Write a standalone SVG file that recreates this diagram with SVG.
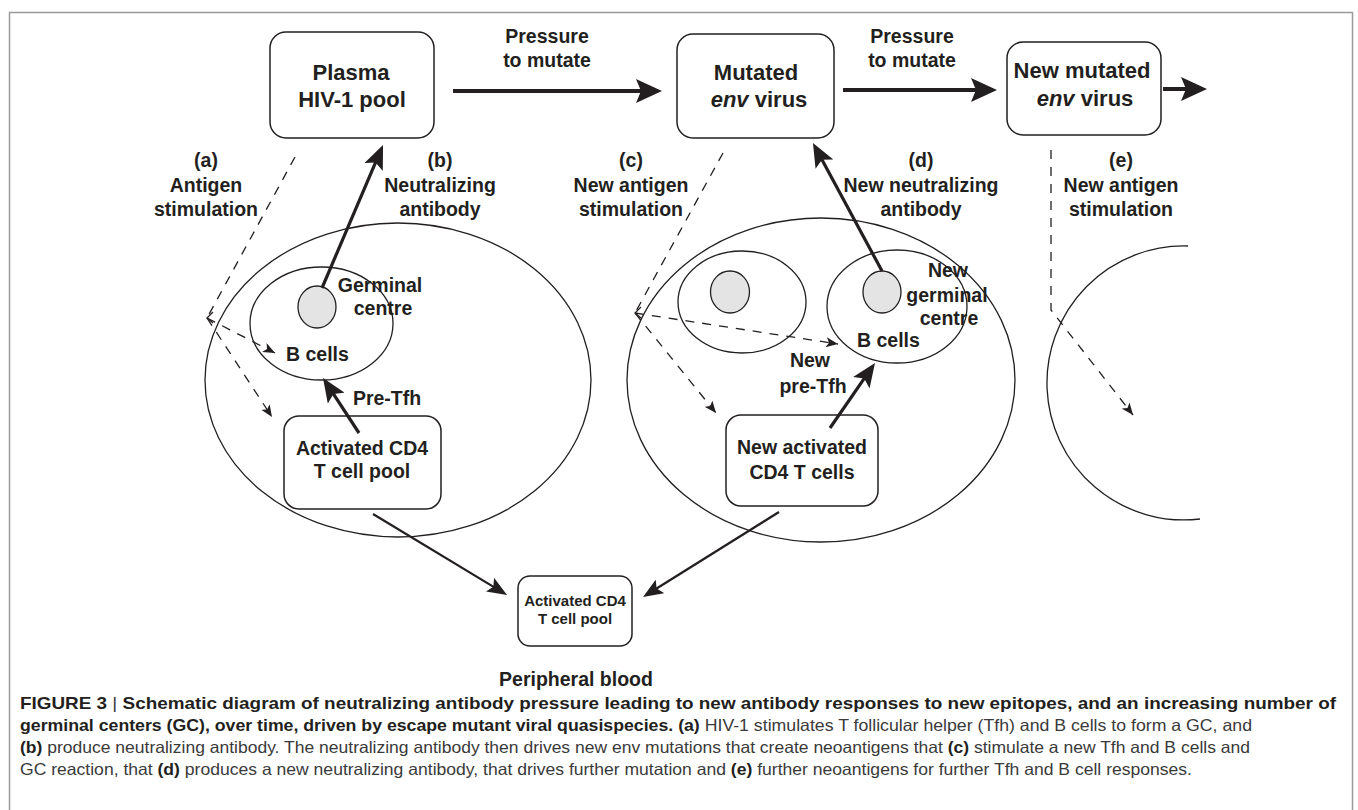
<svg xmlns="http://www.w3.org/2000/svg" width="1358" height="810" viewBox="0 0 1358 810">
<style>
.t{font-family:"Liberation Sans",Arial,Helvetica,sans-serif;font-weight:bold;fill:#231f20;text-anchor:middle}
.lb{font-size:19.5px}
.bx{font-size:22px}
.box{fill:#fff;stroke:#231f20;stroke-width:1.5}
.ell{fill:none;stroke:#231f20;stroke-width:1.3}
.gc{fill:#e4e4e4;stroke:#231f20;stroke-width:1.3}
.thick{stroke:#231f20;stroke-width:4;fill:none}
.mid{stroke:#231f20;stroke-width:3.2;fill:none}
.thin{stroke:#231f20;stroke-width:2.2;fill:none}
.dash{stroke:#231f20;stroke-width:1.3;stroke-dasharray:9 8;fill:none}
.chev{stroke:#231f20;stroke-width:1.2;fill:none}
.cap{font-family:"Liberation Sans",Arial,Helvetica,sans-serif;font-size:16.5px;fill:#231f20}
.cb{font-weight:bold}
.cr{font-weight:normal;fill:#3a3a3a}
</style>
<defs>
<marker id="hBig" viewBox="0 0 26 24" markerWidth="26" markerHeight="24" refX="16" refY="12" orient="auto" markerUnits="userSpaceOnUse"><path d="M0,0 L26,12 L0,24 L5,12 z" fill="#231f20"/></marker>
<marker id="hMid" viewBox="0 0 24 20" markerWidth="24" markerHeight="20" refX="14" refY="10" orient="auto" markerUnits="userSpaceOnUse"><path d="M0,0 L24,10 L0,20 L5,10 z" fill="#231f20"/></marker>
<marker id="hThin" viewBox="0 0 20 16" markerWidth="20" markerHeight="16" refX="12" refY="8" orient="auto" markerUnits="userSpaceOnUse"><path d="M0,0 L20,8 L0,16 L4,8 z" fill="#231f20"/></marker>
<marker id="hDash" viewBox="0 0 12 10" markerWidth="12" markerHeight="10" refX="12" refY="5" orient="auto" markerUnits="userSpaceOnUse"><path d="M0,0 L12,5 L0,10 L3,5 z" fill="#231f20"/></marker>
</defs>
<rect id="frame" x="9.5" y="12.5" width="1343" height="820" fill="none" stroke="#9a9a9a" stroke-width="1.5"/>

<g id="compartments">
<ellipse class="ell" cx="398" cy="380" rx="193" ry="157"/>
<ellipse class="ell" cx="821" cy="380" rx="194" ry="162"/>
<path class="ell" d="M1188,246 A137,137 0 1 0 1200,519"/>
</g>

<g id="gc-left">
<ellipse class="ell" cx="321.5" cy="323.5" rx="71.5" ry="56.5"/>
<ellipse class="gc" cx="317" cy="307" rx="19" ry="21"/>
<text class="t lb" x="380" y="292">Germinal</text>
<text class="t lb" x="383" y="315">centre</text>
<text class="t lb" x="286" y="361" style="text-anchor:start">B cells</text>
</g>

<g id="gc-mid-old">
<ellipse class="ell" cx="742" cy="302" rx="64" ry="51"/>
<ellipse class="gc" cx="730" cy="292" rx="19.5" ry="21"/>
</g>

<g id="gc-mid-new">
<ellipse class="ell" cx="897" cy="306.5" rx="70" ry="56.5"/>
<ellipse class="gc" cx="882" cy="292" rx="19" ry="21"/>
<text class="t lb" x="948" y="277">New</text>
<text class="t lb" x="947" y="302">germinal</text>
<text class="t lb" x="949" y="325">centre</text>
<text class="t lb" x="857" y="347" style="text-anchor:start">B cells</text>
</g>

<g id="plasma">
<rect class="box" x="270" y="32" width="164" height="106" rx="16"/>
<text class="t bx" x="351" y="80">Plasma</text>
<text class="t bx" x="352" y="107">HIV-1 pool</text>
</g>

<g id="mutated">
<rect class="box" x="677" y="34" width="157" height="104" rx="16"/>
<text class="t bx" x="756" y="80">Mutated</text>
<text class="t bx" x="759" y="107"><tspan font-style="italic">env</tspan> virus</text>
</g>

<g id="new-mutated">
<rect class="box" x="1007" y="42" width="154" height="93" rx="16"/>
<text class="t bx" x="1082" y="78">New mutated</text>
<text class="t bx" x="1085" y="106"><tspan font-style="italic">env</tspan> virus</text>
</g>

<g id="act-left">
<rect class="box" x="284" y="416" width="157" height="93" rx="15"/>
<text class="t lb" x="362" y="455">Activated CD4</text>
<text class="t lb" x="362" y="478">T cell pool</text>
</g>

<g id="act-mid">
<rect class="box" x="726" y="415" width="152" height="91" rx="15"/>
<text class="t lb" x="802" y="454">New activated</text>
<text class="t lb" x="802" y="479">CD4 T cells</text>
</g>

<g id="blood">
<rect class="box" x="518" y="576" width="114" height="70" rx="12"/>
<text class="t" style="font-size:15px" x="575" y="606">Activated CD4</text>
<text class="t" style="font-size:15px" x="575" y="624">T cell pool</text>
<text class="t" style="font-size:19.5px" x="576" y="686">Peripheral blood</text>
</g>

<g id="labels">
<text class="t" style="font-size:19.5px" x="547" y="43">Pressure</text>
<text class="t" style="font-size:19.5px" x="547" y="67">to mutate</text>
<text class="t" style="font-size:19.5px" x="912" y="43">Pressure</text>
<text class="t" style="font-size:19.5px" x="912" y="67">to mutate</text>
<text class="t lb" x="206" y="167">(a)</text>
<text class="t lb" x="206" y="192">Antigen</text>
<text class="t lb" x="206" y="216">stimulation</text>
<text class="t lb" x="440" y="167">(b)</text>
<text class="t lb" x="440" y="192">Neutralizing</text>
<text class="t lb" x="440" y="216">antibody</text>
<text class="t lb" x="631" y="167">(c)</text>
<text class="t lb" x="631" y="192">New antigen</text>
<text class="t lb" x="631" y="216">stimulation</text>
<text class="t lb" x="921" y="167">(d)</text>
<text class="t lb" x="921" y="192">New neutralizing</text>
<text class="t lb" x="921" y="216">antibody</text>
<text class="t lb" x="1121" y="167">(e)</text>
<text class="t lb" x="1121" y="192">New antigen</text>
<text class="t lb" x="1121" y="216">stimulation</text>
<text class="t lb" x="387" y="405">Pre-Tfh</text>
<text class="t lb" x="810" y="367">New</text>
<text class="t lb" x="813" y="393">pre-Tfh</text>
</g>

<g id="connectors">
<line class="thick" x1="453" y1="91" x2="652" y2="91" marker-end="url(#hBig)"/>
<line class="thick" x1="843" y1="90" x2="987" y2="90" marker-end="url(#hBig)"/>
<line class="thick" x1="1163" y1="89" x2="1197" y2="89" marker-end="url(#hBig)"/>
<line class="mid" x1="322" y1="288" x2="379.1" y2="154.2" marker-end="url(#hMid)"/>
<line class="mid" x1="882" y1="271" x2="817.7" y2="151.8" marker-end="url(#hMid)"/>
<line class="mid" x1="359" y1="433" x2="328.5" y2="386.4" marker-end="url(#hMid)"/>
<line class="mid" x1="830" y1="428" x2="869.3" y2="371.2" marker-end="url(#hMid)"/>
<line class="thin" x1="373" y1="514" x2="500.2" y2="590.9" marker-end="url(#hThin)"/>
<line class="thin" x1="779" y1="512" x2="649.8" y2="592.8" marker-end="url(#hThin)"/>
<line class="dash" x1="295" y1="157" x2="207" y2="318"/>
<polyline class="chev" points="213,312 207,318 213,323"/>
<line class="dash" x1="207" y1="318" x2="275" y2="353" marker-end="url(#hDash)"/>
<line class="dash" x1="207" y1="318" x2="272" y2="417" marker-end="url(#hDash)"/>
<line class="dash" x1="723" y1="153" x2="635" y2="313"/>
<polyline class="chev" points="641,307 635,313 641,318"/>
<line class="dash" x1="635" y1="313" x2="838" y2="344" marker-end="url(#hDash)"/>
<line class="dash" x1="635" y1="313" x2="716" y2="413" marker-end="url(#hDash)"/>
<polyline class="dash" points="1051,150 1051,310 1133,415" marker-end="url(#hDash)"/>
</g>

<g id="caption">
<text class="cap" x="20" y="709" textLength="1316" lengthAdjust="spacingAndGlyphs"><tspan class="cb">FIGURE 3 </tspan><tspan class="cr" fill="#777">|</tspan><tspan class="cb"> Schematic diagram of neutralizing antibody pressure leading to new antibody responses to new epitopes, and an increasing number of</tspan></text>
<text class="cap" x="20" y="731" textLength="1232" lengthAdjust="spacingAndGlyphs"><tspan class="cb">germinal centers (GC), over time, driven by escape mutant viral quasispecies. (a)</tspan><tspan class="cr"> HIV-1 stimulates T follicular helper (Tfh) and B cells to form a GC, and</tspan></text>
<text class="cap" x="20" y="753" textLength="1230" lengthAdjust="spacingAndGlyphs"><tspan class="cb">(b)</tspan><tspan class="cr"> produce neutralizing antibody. The neutralizing antibody then drives new env mutations that create neoantigens that </tspan><tspan class="cb">(c)</tspan><tspan class="cr"> stimulate a new Tfh and B cells and</tspan></text>
<text class="cap" x="20" y="775" textLength="1172" lengthAdjust="spacingAndGlyphs"><tspan class="cr">GC reaction, that </tspan><tspan class="cb">(d)</tspan><tspan class="cr"> produces a new neutralizing antibody, that drives further mutation and </tspan><tspan class="cb">(e)</tspan><tspan class="cr"> further neoantigens for further Tfh and B cell responses.</tspan></text>
</g>
</svg>
